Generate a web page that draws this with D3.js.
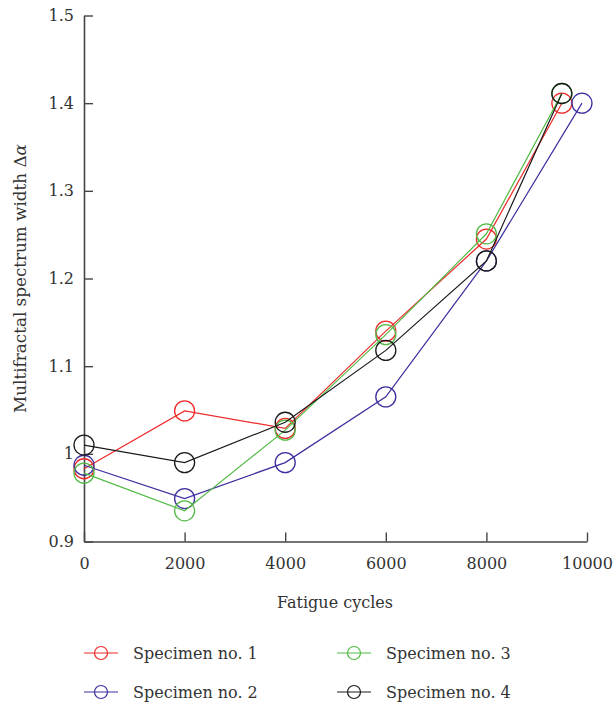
<!DOCTYPE html>
<html><head><meta charset="utf-8">
<script src="https://cdn.jsdelivr.net/npm/d3@7"></script>
<style>body{margin:0;background:#fff}svg{display:block}
svg text{font-family:"DejaVu Serif",serif;}</style>
</head><body>
<svg id="c" width="613" height="710"></svg>
<script>
const seriesNames = ["Specimen no. 1","Specimen no. 2","Specimen no. 3","Specimen no. 4"];
const seriesColors = ["#ee2a2a","#3b2f9e","#52bb45","#1a1a1a"];
const xSpec1 = [0,2000,4000,6000,8000,9500];
const ySpec1 = [0.983,1.049,1.029,1.140,1.245,1.400];
const xSpec2 = [0,2000,4000,6000,8000,9900];
const ySpec2 = [0.987,0.949,0.990,1.065,1.220,1.400];
const xSpec3 = [0,2000,4000,6000,8000,9500];
const ySpec3 = [0.978,0.935,1.027,1.136,1.251,1.411];
const xSpec4 = [0,2000,4000,6000,8000,9500];
const ySpec4 = [1.010,0.990,1.036,1.118,1.220,1.411];
const xTicks = [0,2000,4000,6000,8000,10000];
const yTicks = [0.9,1.0,1.1,1.2,1.3,1.4,1.5];
const yTickLabels = ["0.9","1","1.1","1.2","1.3","1.4","1.5"];

const series = [
  {name: seriesNames[0], color: seriesColors[0], xs: xSpec1, ys: ySpec1},
  {name: seriesNames[1], color: seriesColors[1], xs: xSpec2, ys: ySpec2},
  {name: seriesNames[2], color: seriesColors[2], xs: xSpec3, ys: ySpec3},
  {name: seriesNames[3], color: seriesColors[3], xs: xSpec4, ys: ySpec4}
];

const svg = d3.select("#c");
const x = d3.scaleLinear().domain([0,10000]).range([84,587]);
const y = d3.scaleLinear().domain([0.9,1.5]).range([541.5,15.5]);
const fs = "16px";

const axisColor = "#444";
const gx = svg.append("g").attr("transform","translate(0,541.5)")
  .call(d3.axisBottom(x).tickValues(xTicks).tickSizeInner(-9).tickSizeOuter(0).tickPadding(16).tickFormat(d3.format("d")));
const gy = svg.append("g").attr("transform","translate(84,0)")
  .call(d3.axisLeft(y).tickValues(yTicks).tickSizeInner(-9).tickSizeOuter(0).tickPadding(10).tickFormat((d,i)=>yTickLabels[i]));
[gx,gy].forEach(g=>{
  g.attr("font-family",null).attr("font-size",null);
  g.select(".domain").attr("stroke",axisColor).attr("stroke-width",1.6);
  g.selectAll(".tick line").attr("stroke",axisColor).attr("stroke-width",1.4);
  g.selectAll(".tick text").attr("fill","#333").style("font-size",fs);
});

const line = d3.line().x(d=>x(d[0])).y(d=>y(d[1]));
series.forEach(s=>{
  const pts = s.xs.map((v,i)=>[v,s.ys[i]]);
  svg.append("path").attr("d",line(pts)).attr("fill","none").attr("stroke",s.color).attr("stroke-width",1.2);
  svg.append("g").selectAll("circle").data(pts).join("circle")
    .attr("cx",d=>x(d[0])).attr("cy",d=>y(d[1])).attr("r",10)
    .attr("fill","none").attr("stroke",s.color).attr("stroke-width",1.3);
});

svg.append("text").attr("x",335).attr("y",608).attr("text-anchor","middle")
  .style("font-size",fs).attr("fill","#333").text("Fatigue cycles");
const yt = svg.append("text").attr("transform","translate(26,278.5) rotate(-90)").attr("text-anchor","middle")
  .style("font-size","16.8px").attr("fill","#333");
yt.append("tspan").text("Multifractal spectrum width Δ");
yt.append("tspan").style("font-style","italic").text("α");

const legPos = [[84,653],[84,692],[337,653],[337,692]];
series.forEach((s,i)=>{
  const [lx,ly] = legPos[i];
  const g = svg.append("g");
  g.append("line").attr("x1",lx).attr("x2",lx+34).attr("y1",ly).attr("y2",ly).attr("stroke",s.color).attr("stroke-width",1.2);
  g.append("circle").attr("cx",lx+17).attr("cy",ly).attr("r",6.5).attr("fill","none").attr("stroke",s.color).attr("stroke-width",1.2);
  g.append("text").attr("x",lx+49).attr("y",ly+5.5).style("font-size",fs).attr("fill","#333").text(s.name);
});
</script>
</body></html>
